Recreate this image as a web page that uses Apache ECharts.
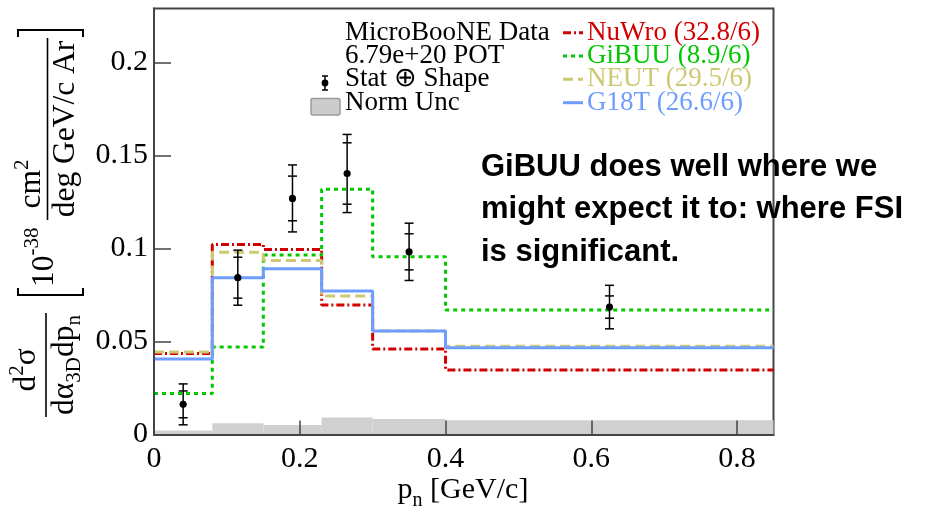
<!DOCTYPE html>
<html>
<head>
<meta charset="utf-8">
<script src="https://cdn.jsdelivr.net/npm/echarts@6/dist/echarts.min.js"></script>
<style>
  html, body { margin: 0; padding: 0; background: #fff; }
  #chart { width: 932px; height: 509px; }
</style>
</head>
<body>
<div id="chart"></div>
<script>
// ---- data -----------------------------------------------------------
const binEdges = [0, 0.08, 0.15, 0.23, 0.3, 0.4, 0.85];

const nuwro = [0.0436, 0.1022, 0.0995, 0.0696, 0.0459, 0.0347];
const gibuu = [0.0221, 0.0470, 0.0965, 0.1318, 0.0956, 0.0669];
const neut  = [0.0443, 0.0980, 0.0936, 0.0744, 0.0556, 0.0475];
const g18t  = [0.0406, 0.0843, 0.0891, 0.0771, 0.0556, 0.0467];
const normUnc = [0.0022, 0.0060, 0.0051, 0.0092, 0.0083, 0.0077];

const dataX = [0.04, 0.115, 0.19, 0.265, 0.35, 0.625];
const dataY = [0.0162, 0.0843, 0.1269, 0.1403, 0.0982, 0.0685];
const errTotal = [0.0110, 0.0148, 0.0180, 0.0210, 0.0154, 0.0117];
const errShape = [0.0072, 0.0110, 0.0120, 0.0165, 0.0097, 0.0060];

const xTickValues = [0, 0.2, 0.4, 0.6, 0.8];
const xTickLabels = ['0', '0.2', '0.4', '0.6', '0.8'];
const yTickValues = [0, 0.05, 0.1, 0.15, 0.2];
const yTickLabels = ['0', '0.05', '0.1', '0.15', '0.2'];

const dataLegend = ['MicroBooNE Data', '6.79e+20 POT', 'Stat \u2295 Shape', 'Norm Unc'];
const modelNames = ['NuWro (32.8/6)', 'GiBUU (8.9/6)', 'NEUT (29.5/6)', 'G18T (26.6/6)'];
const note = ['GiBUU does well where we', 'might expect it to: where FSI', 'is significant.'];

// ---- styles ---------------------------------------------------------
const SERIF = '"Liberation Serif","Times New Roman",Times,serif';
const SANS = '"Liberation Sans",Arial,Helvetica,sans-serif';
const FRAME = '#444';

const models = [
  { name: modelNames[0], values: nuwro, color: '#d20000', dash: [8, 3, 2, 3] },
  { name: modelNames[1], values: gibuu, color: '#00c800', dash: [4, 4] },
  { name: modelNames[2], values: neut,  color: '#cfc872', dash: [10, 5] },
  { name: modelNames[3], values: g18t,  color: '#6e9dff', dash: 'solid' }
];

// ---- text helpers ---------------------------------------------------
const mctx = document.createElement('canvas').getContext('2d');
function measure(str, fs, fam, weight) {
  mctx.font = (weight || 'normal') + ' ' + fs + 'px ' + (fam || SERIF);
  return mctx.measureText(str).width;
}
// place a string by its alphabetic baseline
function textAt(str, x, base, fs, o) {
  o = o || {};
  const fam = o.family || SERIF;
  const mid = o.mid != null ? o.mid : 0.3375;
  const weight = o.weight || 'normal';
  return {
    type: 'text', x: x, y: base - mid * fs, z: o.z || 20,
    style: {
      text: str, font: weight + ' ' + fs + 'px ' + fam, fill: o.color || '#000',
      align: o.align || 'left', verticalAlign: 'middle',
      textAlign: o.align || 'left', textVerticalAlign: 'middle'
    }
  };
}
// a run of segments [text, size, baselineShift]
function run(segs, anchor, base, align) {
  const widths = segs.map(s => measure(s[0], s[1]));
  const total = widths.reduce((a, b) => a + b, 0);
  let u = align === 'left' ? anchor : anchor - total / 2;
  const els = segs.map((s, i) => {
    const el = textAt(s[0], u, base + s[2], s[1]);
    u += widths[i];
    return el;
  });
  return { els: els, width: total };
}
function line(x1, y1, x2, y2, color, width, dash) {
  return {
    type: 'line', z: 20,
    shape: { x1: x1, y1: y1, x2: x2, y2: y2 },
    style: { stroke: color, lineWidth: width, lineDash: dash || null }
  };
}

// ---- y-axis title (laid out horizontally, then rotated) -------------
const TF = 31.5, SF = 21;
const num1 = run([['d', TF, 0], ['2', SF, -12], ['\u03c3', TF, 0]], 139, 37);
const den1 = run([['d', TF, 0], ['\u03b1', TF, 0], ['3D', SF, 7], ['d', TF, 0], ['p', TF, 0], ['n', SF, 7]], 144, 75);
const tenPow = run([['10', TF, 0], ['-38', SF, -15]], 222, 55, 'left');
const num2 = run([['cm', TF, 0], ['2', SF, -12]], 325, 42);
const den2 = run([['deg GeV/c Ar', TF, 0]], 380, 76);

const yTitleChildren = [].concat(
  num1.els, den1.els, tenPow.els, num2.els, den2.els,
  [
    line(92, 46, 196, 46, '#000', 1.6),
    line(289, 47.5, 471, 47.5, '#000', 1.6),
    { type: 'polyline', z: 20, shape: { points: [[221, 18], [214, 18], [214, 83], [221, 83]] }, style: { stroke: '#000', lineWidth: 2, fill: null } },
    { type: 'polyline', z: 20, shape: { points: [[472, 18], [479, 18], [479, 83], [472, 83]] }, style: { stroke: '#000', lineWidth: 2, fill: null } }
  ]
);

// ---- x-axis title ---------------------------------------------------
const xTitle = run([['p', 30, 0], ['n', 20, 7], [' [GeV/c]', 30, 0]], 463, 500);

// ---- legend ----------------------------------------------------------
const legendBase = [41.7, 65, 88.3, 111.7];
const legendEls = [];
dataLegend.forEach((t, i) => legendEls.push(textAt(t, 345, legendBase[i], 27)));
models.forEach((m, i) => {
  legendEls.push(textAt(m.name, 587, legendBase[i], 27, { color: m.color }));
  const y = legendBase[i] - 9;
  legendEls.push(line(563, y, 583, y, m.color, 3, m.dash === 'solid' ? null : m.dash));
});
// data marker
legendEls.push(line(325, 76, 325, 90, '#000', 1.5));
legendEls.push(line(322, 76, 328, 76, '#000', 1.5));
legendEls.push(line(322, 90, 328, 90, '#000', 1.5));
legendEls.push({ type: 'circle', z: 21, shape: { cx: 325, cy: 83, r: 3.4 }, style: { fill: '#000' } });
// normalisation box
legendEls.push({ type: 'rect', z: 20, shape: { x: 311, y: 98.5, width: 29, height: 16.5, r: 2 }, style: { fill: '#cccccc', stroke: '#9a9a9a', lineWidth: 1.5 } });

// ---- annotation -------------------------------------------------------
const noteBase = [178, 220.5, 263];
const noteEls = note.map((t, i) => textAt(t, 481, noteBase[i], 31, { family: SANS, weight: 'bold', mid: 0.3465, z: 30 }));

// ---- series ------------------------------------------------------------
function stepData(vals) {
  const d = vals.map((v, i) => [binEdges[i], v]);
  d.push([binEdges[binEdges.length - 1], vals[vals.length - 1]]);
  return d;
}

const series = [];

series.push({
  type: 'custom', name: 'Norm Unc', z: 1, silent: true,
  data: normUnc.map((v, i) => [binEdges[i], binEdges[i + 1], v]),
  encode: { x: [0, 1], y: 2 },
  renderItem: function (params, api) {
    const p0 = api.coord([api.value(0), api.value(2)]);
    const p1 = api.coord([api.value(1), 0]);
    return {
      type: 'rect',
      shape: { x: p0[0], y: p0[1], width: p1[0] - p0[0], height: p1[1] - p0[1] },
      style: { fill: '#d0d0d0' }
    };
  }
});

models.forEach((m, i) => {
  series.push({
    type: 'line', name: m.name, step: 'end', showSymbol: false, symbol: 'none',
    z: 3 + i, silent: true,
    data: stepData(m.values),
    lineStyle: { color: m.color, width: 3, type: m.dash, cap: 'butt' }
  });
});

series.push({
  type: 'custom', name: 'MicroBooNE Data', z: 10, silent: true,
  data: dataX.map((x, i) => [x, dataY[i], errTotal[i], errShape[i]]),
  encode: { x: 0, y: 1 },
  renderItem: function (params, api) {
    const x = api.value(0), y = api.value(1), e = api.value(2), es = api.value(3);
    const c = api.coord([x, y]);
    const top = api.coord([x, y + e])[1], bot = api.coord([x, y - e])[1];
    const ti = api.coord([x, y + es])[1], bi = api.coord([x, y - es])[1];
    const hw = 4.5;
    const st = { stroke: '#000', lineWidth: 1.5 };
    const seg = (x1, y1, x2, y2) => ({ type: 'line', shape: { x1: x1, y1: y1, x2: x2, y2: y2 }, style: st });
    return {
      type: 'group',
      children: [
        seg(c[0], top, c[0], bot),
        seg(c[0] - hw, top, c[0] + hw, top),
        seg(c[0] - hw, bot, c[0] + hw, bot),
        seg(c[0] - hw, ti, c[0] + hw, ti),
        seg(c[0] - hw, bi, c[0] + hw, bi),
        { type: 'circle', shape: { cx: c[0], cy: c[1], r: 3.6 }, style: { fill: '#000' } }
      ]
    };
  }
});

// ---- chart -------------------------------------------------------------
const chart = echarts.init(document.getElementById('chart'), null, { renderer: 'canvas' });
chart.setOption({
  animation: false,
  backgroundColor: '#fff',
  grid: {
    left: 154, right: 158.5, top: 8.5, bottom: 74.5,
    containLabel: false, outerBoundsMode: 'none',
    show: true, borderColor: FRAME, borderWidth: 2, backgroundColor: 'transparent'
  },
  xAxis: {
    type: 'value', min: 0, max: 0.85, z: 12,
    splitLine: { show: false },
    axisLine: { show: true, onZero: false, lineStyle: { color: FRAME, width: 2 } },
    axisTick: { show: true, inside: true, length: 14, customValues: xTickValues, lineStyle: { color: FRAME, width: 1.5 } },
    axisLabel: {
      customValues: xTickValues, margin: 10,
      formatter: v => xTickLabels[xTickValues.indexOf(v)],
      fontFamily: SERIF, fontSize: 30, color: '#000'
    }
  },
  yAxis: {
    type: 'value', min: 0, max: 0.229, z: 12,
    splitLine: { show: false },
    axisLine: { show: true, onZero: false, lineStyle: { color: FRAME, width: 2 } },
    axisTick: { show: true, inside: true, length: 17, customValues: yTickValues, lineStyle: { color: FRAME, width: 1.5 } },
    axisLabel: {
      customValues: yTickValues, margin: 6,
      formatter: v => yTickLabels[yTickValues.indexOf(v)],
      fontFamily: SERIF, fontSize: 30, color: '#000'
    }
  },
  series: series,
  graphic: [
    { type: 'group', x: 0, y: 509, rotation: Math.PI / 2, children: yTitleChildren },
    { type: 'group', children: xTitle.els },
    { type: 'group', children: legendEls },
    { type: 'group', children: noteEls }
  ]
});
</script>
</body>
</html>
